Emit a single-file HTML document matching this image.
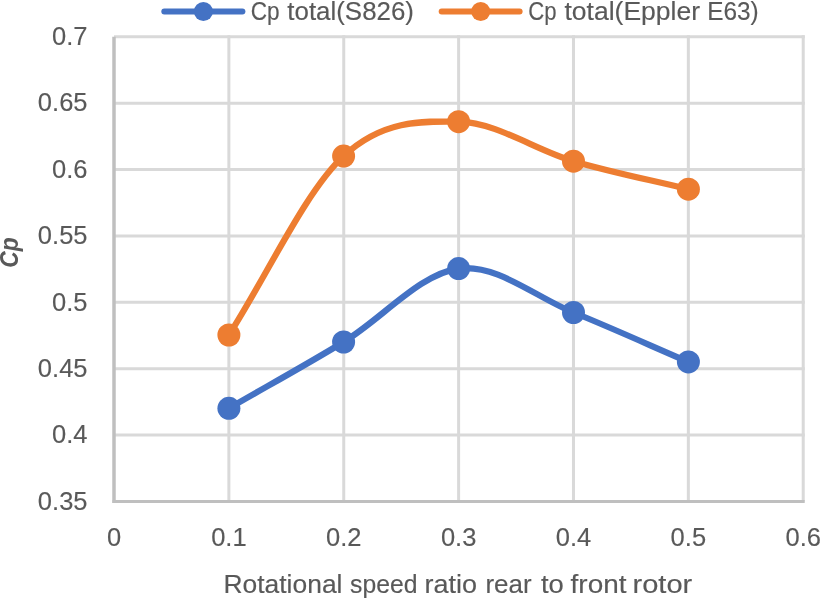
<!DOCTYPE html>
<html><head><meta charset="utf-8"><title>Cp chart</title>
<style>
html,body{margin:0;padding:0;background:#fff;}
body{width:821px;height:598px;overflow:hidden;}
svg{display:block;}
text{font-family:"Liberation Sans",Arial,sans-serif;font-size:25.5px;fill:#595959;stroke:#595959;stroke-width:0.15px;}
</style></head><body>
<svg width="821" height="598" viewBox="0 0 821 598">
<rect width="821" height="598" fill="#fff"/>
<line x1="114.00" y1="36.80" x2="804.72" y2="36.80" stroke="#d9d9d9" stroke-width="3"/>
<line x1="114.00" y1="103.19" x2="804.72" y2="103.19" stroke="#d9d9d9" stroke-width="3"/>
<line x1="114.00" y1="169.57" x2="804.72" y2="169.57" stroke="#d9d9d9" stroke-width="3"/>
<line x1="114.00" y1="235.96" x2="804.72" y2="235.96" stroke="#d9d9d9" stroke-width="3"/>
<line x1="114.00" y1="302.34" x2="804.72" y2="302.34" stroke="#d9d9d9" stroke-width="3"/>
<line x1="114.00" y1="368.73" x2="804.72" y2="368.73" stroke="#d9d9d9" stroke-width="3"/>
<line x1="114.00" y1="435.11" x2="804.72" y2="435.11" stroke="#d9d9d9" stroke-width="3"/>
<line x1="228.87" y1="35.30" x2="228.87" y2="501.50" stroke="#d9d9d9" stroke-width="3"/>
<line x1="343.74" y1="35.30" x2="343.74" y2="501.50" stroke="#d9d9d9" stroke-width="3"/>
<line x1="458.61" y1="35.30" x2="458.61" y2="501.50" stroke="#d9d9d9" stroke-width="3"/>
<line x1="573.48" y1="35.30" x2="573.48" y2="501.50" stroke="#d9d9d9" stroke-width="3"/>
<line x1="688.35" y1="35.30" x2="688.35" y2="501.50" stroke="#d9d9d9" stroke-width="3"/>
<line x1="803.22" y1="35.30" x2="803.22" y2="501.50" stroke="#d9d9d9" stroke-width="3"/>
<line x1="114.00" y1="36.80" x2="114.00" y2="503.00" stroke="#bfbfbf" stroke-width="3.5"/>
<line x1="112.50" y1="501.50" x2="804.72" y2="501.50" stroke="#bfbfbf" stroke-width="3"/>
<text x="87.5" y="45.10" text-anchor="end">0.7</text>
<text x="87.5" y="111.49" text-anchor="end">0.65</text>
<text x="87.5" y="177.87" text-anchor="end">0.6</text>
<text x="87.5" y="244.26" text-anchor="end">0.55</text>
<text x="87.5" y="310.64" text-anchor="end">0.5</text>
<text x="87.5" y="377.03" text-anchor="end">0.45</text>
<text x="87.5" y="443.41" text-anchor="end">0.4</text>
<text x="87.5" y="509.80" text-anchor="end">0.35</text>
<text x="114.00" y="546" text-anchor="middle">0</text>
<text x="228.87" y="546" text-anchor="middle">0.1</text>
<text x="343.74" y="546" text-anchor="middle">0.2</text>
<text x="458.61" y="546" text-anchor="middle">0.3</text>
<text x="573.48" y="546" text-anchor="middle">0.4</text>
<text x="688.35" y="546" text-anchor="middle">0.5</text>
<text x="803.22" y="546" text-anchor="middle">0.6</text>
<text transform="translate(223.43,592.8) scale(1.0369,1)">Rotational</text>
<text transform="translate(350.03,592.8) scale(0.9701,1)">speed</text>
<text transform="translate(424.58,592.8) scale(1.0596,1)">ratio</text>
<text transform="translate(485.46,592.8) scale(1.0186,1)">rear</text>
<text transform="translate(541.00,592.8) scale(1.0750,1)">to</text>
<text transform="translate(570.60,592.8) scale(1.0961,1)">front</text>
<text transform="translate(632.52,592.8) scale(1.1400,1)">rotor</text>
<text transform="translate(18.4,252.6) rotate(-90) scale(0.89,1)" text-anchor="middle" font-weight="bold" font-style="italic" style="stroke:none">Cp</text>
<path d="M228.90,408.30 C267.13,386.20 305.32,365.28 343.60,342.00 C381.88,318.72 420.28,273.52 458.60,268.60 C496.92,263.68 535.20,296.95 573.50,312.50 C611.80,328.05 650.10,345.43 688.40,361.90" fill="none" stroke="#4472c4" stroke-width="6.2" stroke-linecap="round" stroke-linejoin="round"/>
<circle cx="228.9" cy="408.3" r="11.5" fill="#4472c4"/>
<circle cx="343.6" cy="342.0" r="11.5" fill="#4472c4"/>
<circle cx="458.6" cy="268.6" r="11.5" fill="#4472c4"/>
<circle cx="573.5" cy="312.5" r="11.5" fill="#4472c4"/>
<circle cx="688.4" cy="361.9" r="11.5" fill="#4472c4"/>
<path d="M228.90,335.00 C267.13,275.37 305.32,191.65 343.60,156.10 C381.88,120.55 420.28,120.85 458.60,121.70 C496.92,122.55 535.20,149.95 573.50,161.20 C611.80,172.45 650.10,179.87 688.40,189.20" fill="none" stroke="#ed7d31" stroke-width="6.2" stroke-linecap="round" stroke-linejoin="round"/>
<circle cx="228.9" cy="335.0" r="11.5" fill="#ed7d31"/>
<circle cx="343.6" cy="156.1" r="11.5" fill="#ed7d31"/>
<circle cx="458.6" cy="121.7" r="11.5" fill="#ed7d31"/>
<circle cx="573.5" cy="161.2" r="11.5" fill="#ed7d31"/>
<circle cx="688.4" cy="189.2" r="11.5" fill="#ed7d31"/>
<line x1="164.3" y1="11.5" x2="242.4" y2="11.5" stroke="#4472c4" stroke-width="6" stroke-linecap="round"/>
<circle cx="203.4" cy="11.5" r="9.5" fill="#4472c4"/>
<text transform="translate(250.76,20.1) scale(0.8855,1)">Cp</text>
<text transform="translate(287.30,20.1) scale(1.0163,1)">total(S826)</text>
<line x1="441.7" y1="11.5" x2="519.6" y2="11.5" stroke="#ed7d31" stroke-width="6" stroke-linecap="round"/>
<circle cx="480.7" cy="11.5" r="9.5" fill="#ed7d31"/>
<text transform="translate(528.23,20.1) scale(0.8677,1)">Cp</text>
<text transform="translate(564.50,20.1) scale(1.0400,1)">total(Eppler</text>
<text transform="translate(707.19,20.1) scale(0.9560,1)">E63)</text>
</svg>
</body></html>
